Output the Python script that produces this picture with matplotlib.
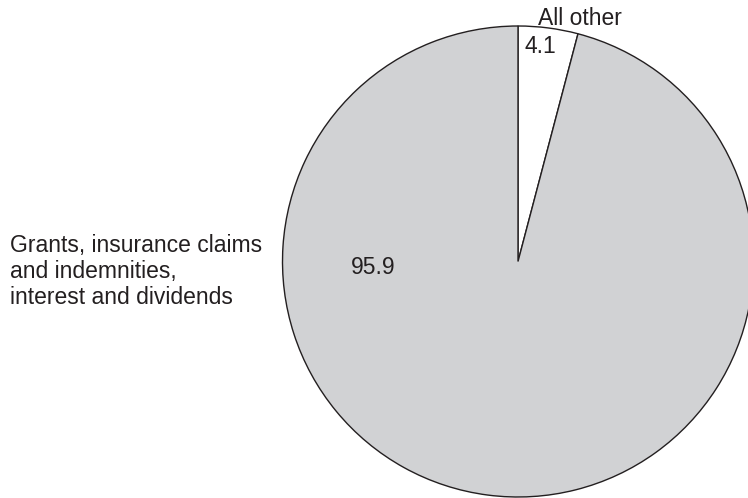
import matplotlib
matplotlib.use("Agg")
import matplotlib.pyplot as plt

categories = ["All other", "Grants, insurance claims\nand indemnities,\ninterest and dividends"]
values = [4.1, 95.9]
value_labels = ["4.1", "95.9"]
colors = ["#ffffff", "#d1d2d4"]

plt.rcParams['font.family'] = ['Liberation Sans', 'DejaVu Sans']

fig = plt.figure(figsize=(7.48, 4.98), dpi=100)
ax = fig.add_axes([0, 0, 1, 1])
ax.pie(values, colors=colors, startangle=90, counterclock=False,
       center=(518, 236.5), radius=235.5,
       wedgeprops=dict(edgecolor="#231f20", linewidth=1.0))
ax.set_xlim(0, 748)
ax.set_ylim(0, 498)
ax.set_aspect('equal')
ax.axis('off')

fs = 16.5
tc = "#231f20"
ax.text(538, 473, categories[0], ha='left', va='baseline', fontsize=fs, color=tc)
ax.text(525, 445, value_labels[0], ha='left', va='baseline', fontsize=fs, color=tc)
ax.text(351, 224, value_labels[1], ha='left', va='baseline', fontsize=fs, color=tc)
for i, line in enumerate(categories[1].split("\n")):
    ax.text(10, 246 - 26 * i, line, ha='left', va='baseline', fontsize=fs, color=tc)

fig.savefig("out.png", dpi=100)
